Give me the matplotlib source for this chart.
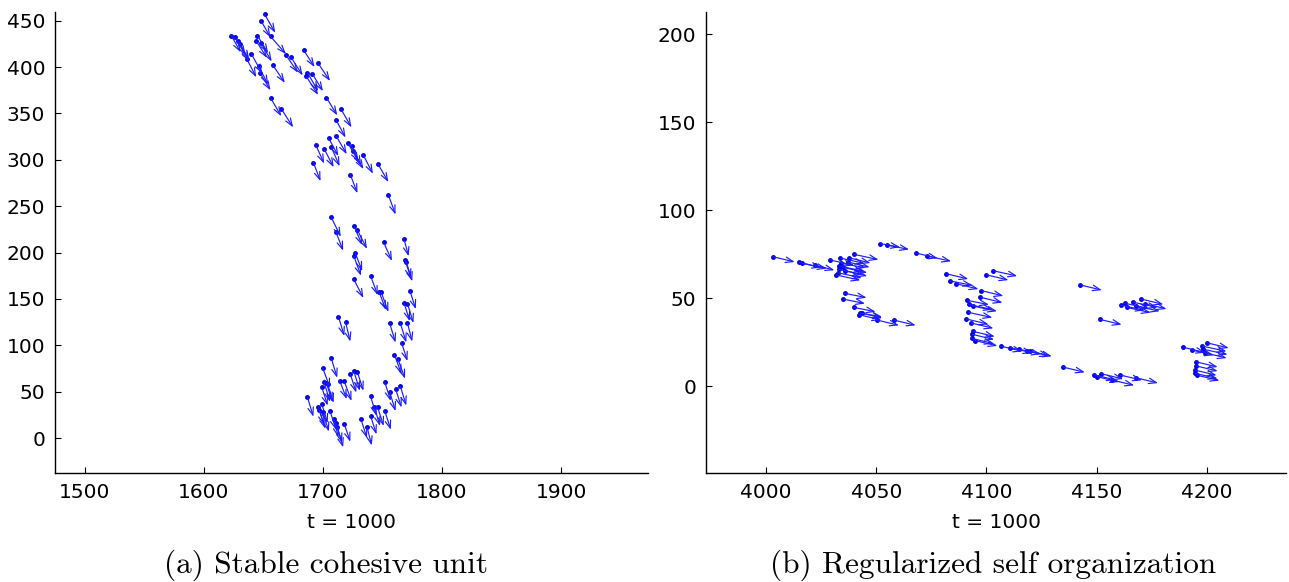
import matplotlib.pyplot as plt

plt.rcParams['font.family'] = ['DejaVu Sans']

# ---- swarm (a): tail positions + velocity vectors ----
xa = [1651, 1648, 1623, 1626, 1629, 1630, 1645, 1644, 1648, 1636, 1640, 1646, 1647, 1658,
      1656, 1669, 1673, 1684, 1696, 1687, 1691, 1686, 1656, 1665, 1703, 1715, 1711, 1711,
      1705, 1694, 1701, 1707, 1721, 1724, 1725, 1734, 1746, 1692, 1723, 1755, 1707, 1726,
      1729, 1711, 1751, 1768, 1727, 1726, 1769, 1770, 1740, 1726, 1747, 1749, 1773, 1768,
      1771, 1713, 1719, 1756, 1765, 1771, 1766, 1760, 1763, 1707, 1700, 1703, 1701, 1704,
      1699, 1714, 1718, 1723, 1726, 1729, 1687, 1699, 1696, 1697, 1700, 1706, 1709, 1711,
      1712, 1718, 1732, 1737, 1740, 1743, 1746, 1752, 1740, 1752, 1756, 1761, 1765]
ya = [457, 450, 434, 432, 428, 425, 434, 428, 426, 409, 414, 401, 394, 402,
      433, 413, 411, 418, 404, 394, 393, 390, 367, 355, 367, 355, 343, 326,
      323, 316, 312, 314, 318, 315, 310, 305, 296, 297, 284, 262, 238, 229,
      224, 222, 211, 215, 200, 196, 192, 190, 175, 171, 158, 157, 159, 146,
      145, 131, 125, 124, 124, 124, 103, 90, 85, 86, 75, 59, 60, 58,
      55, 62, 61, 69, 72, 71, 44, 37, 34, 30, 28, 29, 21, 16,
      12, 15, 20, 12, 24, 34, 33, 29, 45, 60, 50, 53, 56]
ua = [9, 8, 8, 9, 9, 8, 9, 9, 9, 8, 9, 8, 9, 10,
      13, 10, 10, 9, 10, 9, 9, 10, 9, 10, 9, 9, 8, 9,
      8, 7, 8, 7, 9, 8, 9, 8, 9, 6, 6, 6, 8, 7,
      8, 6, 7, 4, 6, 6, 5, 5, 6, 8, 6, 6, 5, 5,
      5, 5, 4, 5, 5, 4, 5, 6, 6, 5, 6, 5, 5, 5,
      5, 6, 6, 5, 5, 5, 5, 5, 5, 5, 5, 5, 4, 5,
      5, 5, 5, 4, 5, 5, 5, 5, 5, 5, 5, 5, 5]
va = [-20, -18, -18, -19, -20, -19, -19, -18, -20, -20, -21, -20, -19, -19,
      -19, -19, -20, -18, -19, -20, -19, -20, -20, -20, -19, -20, -19, -20,
      -19, -20, -20, -21, -20, -21, -20, -20, -20, -20, -20, -21, -21, -21,
      -20, -20, -20, -19, -20, -21, -20, -21, -21, -20, -20, -21, -20, -20,
      -21, -21, -21, -21, -21, -20, -20, -21, -21, -21, -21, -20, -21, -20,
      -20, -20, -21, -20, -21, -20, -21, -21, -20, -20, -21, -20, -20, -21,
      -22, -19, -20, -20, -20, -21, -20, -20, -21, -20, -21, -20, -21]

# ---- swarm (b) ----
xb = [4003, 4015, 4016.5, 4022, 4029, 4033.6, 4037.4, 4040, 4051.8, 4054.9, 4067.9, 4073,
      4032.4, 4032.9, 4033.3, 4034.1, 4034.9, 4035.9, 4037, 4031.8,
      4035.6, 4034.9, 4039.7, 4042.7, 4042.3, 4043.6, 4050.3, 4057.9,
      4081.8, 4083.6, 4086.4, 4097.7, 4097.3, 4103, 4100,
      4091.2, 4091.9, 4093.8, 4091.7, 4090.9, 4093.2, 4093.8, 4093.5, 4093.3, 4095,
      4106.4, 4110.9, 4114.7, 4118.5,
      4142.4, 4151.4, 4160.9, 4162.9, 4163.6, 4166.7, 4167.7, 4170.3, 4171.8,
      4119.7, 4134.7, 4148.8, 4152.1, 4150.3, 4157.1, 4160.6, 4167.9,
      4189.4, 4193.2, 4198, 4200, 4198.5, 4199.1, 4195, 4195, 4194.5, 4194.9, 4195.8]
yb = [73.5, 70.3, 69.7, 68.8, 71.6, 72.7, 72.9, 74.8, 80.9, 80.1, 75.6, 73.9,
      64.4, 66.3, 68.2, 69.7, 67.4, 65.5, 70.5, 63.1,
      52.7, 49.4, 44.7, 41.6, 40.5, 41.3, 37.5, 37.5,
      63.8, 59.7, 58.1, 54.2, 50.4, 65.5, 63.2,
      48.7, 46.4, 45.5, 41.9, 38.1, 35.8, 31.1, 29.4, 27.1, 25.8,
      22.7, 21.8, 21.0, 20.1,
      57.5, 37.9, 46.0, 47.0, 44.7, 47.6, 45.5, 49.4, 46.8,
      19.9, 10.8, 6.4, 7.0, 5.3, 3.4, 6.3, 4.7,
      22.0, 20.5, 22.7, 24.6, 20.9, 18.9, 13.8, 11.5, 9.1, 7.2, 6.1]
ub = [10, 10, 11, 9, 11, 11, 10, 11, 9, 10, 10, 11,
      11, 11, 11, 11, 11, 10, 10, 11,
      10, 10, 10, 10, 10, 9, 10, 10,
      10, 10, 10, 10, 10, 11, 10,
      10, 11, 11, 11, 10, 10, 10, 10, 10, 10,
      10, 10, 10, 10,
      10, 10, 11, 11, 11, 11, 11, 10, 10,
      10, 10, 10, 10, 10, 10, 10, 10,
      10, 10, 11, 10, 11, 10, 10, 10, 10, 10, 10]
vb = [-3, -3, -3, -3, -3, -3, -3, -3, -2, -2.5, -3, -3,
      -3, -3, -3, -2.5, -3, -3, -3, -3,
      -2.5, -2.5, -2.5, -3, -3, -2, -3, -3,
      -3, -2.5, -3, -3, -3, -3, -3,
      -2.5, -3, -3, -3, -3, -3, -3, -3, -3, -3,
      -3, -3, -3, -3,
      -3, -3, -3, -3, -3, -3, -3, -3, -3,
      -3, -3, -3, -3, -3, -3, -3, -3,
      -3, -3, -3, -3, -3, -3, -3, -3, -3, -3, -3]

xticks_a = [1500, 1600, 1700, 1800, 1900]
yticks_a = [0, 50, 100, 150, 200, 250, 300, 350, 400, 450]
xticks_b = [4000, 4050, 4100, 4150, 4200]
yticks_b = [0, 50, 100, 150, 200]


def draw_swarm(ax, xs, ys, us, vs):
    for x, y, u, v in zip(xs, ys, us, vs):
        ax.annotate("", xy=(x + u, y + v), xytext=(x, y),
                    arrowprops=dict(arrowstyle="->,head_length=0.55,head_width=0.2",
                                    color="#1c1cff", lw=0.85, shrinkA=0, shrinkB=0))
    ax.plot(xs, ys, ".", color="#0000e6", ms=5)


def style_axes(ax, xlim, ylim, xticks, yticks):
    ax.set_xlim(*xlim)
    ax.set_ylim(*ylim)
    ax.set_xticks(xticks)
    ax.set_yticks(yticks)
    ax.spines["top"].set_visible(False)
    ax.spines["right"].set_visible(False)
    for s in ("left", "bottom"):
        ax.spines[s].set_linewidth(1.0)
    ax.tick_params(direction="in", length=4.5, width=0.8, labelsize=14.5, pad=7)
    ax.set_xlabel("t = 1000", fontsize=14.5, labelpad=8)


fig = plt.figure(figsize=(12.89, 5.82), dpi=100)
ax1 = fig.add_axes([55 / 1289, 109 / 582, 593 / 1289, 461 / 582])
ax2 = fig.add_axes([706 / 1289, 109 / 582, 580 / 1289, 461 / 582])

draw_swarm(ax1, xa, ya, ua, va)
style_axes(ax1, (1475, 1973), (-37.7, 459.4), xticks_a, yticks_a)

draw_swarm(ax2, xb, yb, ub, vb)
style_axes(ax2, (3972.7, 4236), (-49.4, 212.5), xticks_b, yticks_b)

fig.text(326 / 1289, 1 - 565 / 582, "(a) Stable cohesive unit",
         family="cmr10", fontsize=22.5, ha="center", va="center")
fig.text(993 / 1289, 1 - 565 / 582, "(b) Regularized self organization",
         family="cmr10", fontsize=22.5, ha="center", va="center")

fig.savefig("out.png", dpi=100)
